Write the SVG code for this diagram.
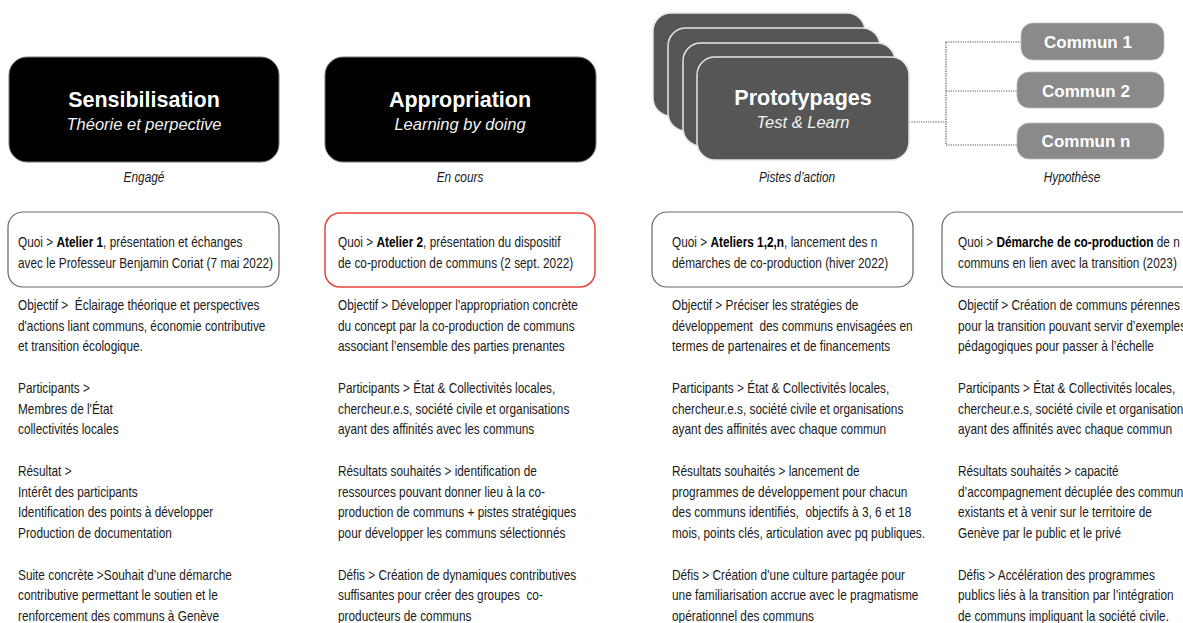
<svg xmlns="http://www.w3.org/2000/svg" width="1183" height="623" viewBox="0 0 1183 623">
<style>
.hdr{fill:#000;stroke:#777;stroke-width:1}
.proto{fill:#565656;stroke:#e6e6e6;stroke-width:1.5}
.commun{fill:#8a8a8a;stroke:#bbb;stroke-width:0.8}
.title{font-family:"Liberation Sans",Arial,sans-serif;font-weight:bold;font-size:21.5px;fill:#fff;text-anchor:middle}
.sub{font-family:"Liberation Sans",Arial,sans-serif;font-style:italic;font-size:16.5px;fill:#f2f2f2;text-anchor:middle}
.ctext{font-family:"Liberation Sans",Arial,sans-serif;font-weight:bold;font-size:17px;fill:#fff;text-anchor:middle}
.lbl{font-family:"Liberation Sans",Arial,sans-serif;font-style:italic;font-size:14px;fill:#1a1a1a;text-anchor:middle}
.body{font-family:"Liberation Sans",Arial,sans-serif;font-size:14px;fill:#1a1a1a;white-space:pre}
.b{font-weight:bold;fill:#000}
.qbox{fill:none;stroke:#666;stroke-width:1.2}
.qred{fill:none;stroke:#e8463a;stroke-width:1.5}
.dot{fill:none;stroke:#555;stroke-width:1.2;stroke-dasharray:1.2 1.2}
</style>

<g id="connectors">
<path class="dot" d="M909 122 H946 M946 42 V145 M946 42 H1022 M946 91 H1017 M946 145 H1017"/>
</g>

<g id="sensibilisation">
<rect class="hdr" x="9" y="57" width="270" height="105" rx="18"/>
<text class="title" x="144" y="107">Sensibilisation</text>
<text class="sub" x="144" y="130">Théorie et perpective</text>
<g transform="translate(144 0) scale(0.845 1)"><text class="lbl" x="0" y="182">Engagé</text></g>
</g>

<g id="appropriation">
<rect class="hdr" x="325" y="57" width="271" height="105" rx="18"/>
<text class="title" x="460" y="107">Appropriation</text>
<text class="sub" x="460" y="130">Learning by doing</text>
<g transform="translate(460 0) scale(0.845 1)"><text class="lbl" x="0" y="182">En cours</text></g>
</g>

<g id="prototypages">
<rect class="proto" x="653" y="13" width="212" height="103" rx="18"/>
<rect class="proto" x="668" y="28" width="212" height="103" rx="18"/>
<rect class="proto" x="683" y="43" width="212" height="103" rx="18"/>
<rect class="proto" x="697" y="57" width="212" height="103" rx="18"/>
<text class="title" x="803" y="105">Prototypages</text>
<text class="sub" x="803" y="128">Test &amp; Learn</text>
<g transform="translate(797 0) scale(0.845 1)"><text class="lbl" x="0" y="182">Pistes d’action</text></g>
</g>

<g id="commun1">
<rect class="commun" x="1021" y="23" width="143" height="37" rx="12"/>
<text class="ctext" x="1088" y="48">Commun 1</text>
</g>
<g id="commun2">
<rect class="commun" x="1017" y="72" width="147" height="36" rx="12"/>
<text class="ctext" x="1086" y="97">Commun 2</text>
</g>
<g id="communn">
<rect class="commun" x="1017" y="123" width="147" height="36" rx="12"/>
<text class="ctext" x="1086" y="147">Commun n</text>
</g>
<g id="hypothese">
<g transform="translate(1072 0) scale(0.845 1)"><text class="lbl" x="0" y="182">Hypothèse</text></g>
</g>

<g id="col1">
<rect class="qbox" x="8" y="212" width="271" height="75" rx="15"/>
<g transform="translate(18 0) scale(0.845 1)">
<text class="body" x="0" y="247">Quoi &gt; <tspan class="b">Atelier 1</tspan>, présentation et échanges</text>
<text class="body" x="0" y="268">avec le Professeur Benjamin Coriat (7 mai 2022)</text>
<text class="body" x="0" y="310">Objectif &gt;  Éclairage théorique et perspectives</text>
<text class="body" x="0" y="331">d'actions liant communs, économie contributive</text>
<text class="body" x="0" y="351">et transition écologique.</text>
<text class="body" x="0" y="393">Participants &gt;</text>
<text class="body" x="0" y="414">Membres de l'État</text>
<text class="body" x="0" y="434">collectivités locales</text>
<text class="body" x="0" y="476">Résultat &gt;</text>
<text class="body" x="0" y="497">Intérêt des participants</text>
<text class="body" x="0" y="517">Identification des points à développer</text>
<text class="body" x="0" y="538">Production de documentation</text>
<text class="body" x="0" y="580">Suite concrète &gt;Souhait d’une démarche</text>
<text class="body" x="0" y="600">contributive permettant le soutien et le</text>
<text class="body" x="0" y="621">renforcement des communs à Genève</text>
</g>
</g>

<g id="col2">
<rect class="qred" x="325" y="213" width="270" height="74" rx="15"/>
<g transform="translate(338 0) scale(0.845 1)">
<text class="body" x="0" y="247">Quoi &gt; <tspan class="b">Atelier 2</tspan>, présentation du dispositif</text>
<text class="body" x="0" y="268">de co-production de communs (2 sept. 2022)</text>
<text class="body" x="0" y="310">Objectif &gt; Développer l'appropriation concrète</text>
<text class="body" x="0" y="331">du concept par la co-production de communs</text>
<text class="body" x="0" y="351">associant l’ensemble des parties prenantes</text>
<text class="body" x="0" y="393">Participants &gt; État &amp; Collectivités locales,</text>
<text class="body" x="0" y="414">chercheur.e.s, société civile et organisations</text>
<text class="body" x="0" y="434">ayant des affinités avec les communs</text>
<text class="body" x="0" y="476">Résultats souhaités &gt; identification de</text>
<text class="body" x="0" y="497">ressources pouvant donner lieu à la co-</text>
<text class="body" x="0" y="517">production de communs + pistes stratégiques</text>
<text class="body" x="0" y="538">pour développer les communs sélectionnés</text>
<text class="body" x="0" y="580">Défis &gt; Création de dynamiques contributives</text>
<text class="body" x="0" y="600">suffisantes pour créer des groupes  co-</text>
<text class="body" x="0" y="621">producteurs de communs</text>
</g>
</g>

<g id="col3">
<rect class="qbox" x="652" y="212" width="261" height="75" rx="15"/>
<g transform="translate(672 0) scale(0.845 1)">
<text class="body" x="0" y="247">Quoi &gt; <tspan class="b">Ateliers 1,2,n</tspan>, lancement des n</text>
<text class="body" x="0" y="268">démarches de co-production (hiver 2022)</text>
<text class="body" x="0" y="310">Objectif &gt; Préciser les stratégies de</text>
<text class="body" x="0" y="331">développement  des communs envisagées en</text>
<text class="body" x="0" y="351">termes de partenaires et de financements</text>
<text class="body" x="0" y="393">Participants &gt; État &amp; Collectivités locales,</text>
<text class="body" x="0" y="414">chercheur.e.s, société civile et organisations</text>
<text class="body" x="0" y="434">ayant des affinités avec chaque commun</text>
<text class="body" x="0" y="476">Résultats souhaités &gt; lancement de</text>
<text class="body" x="0" y="497">programmes de développement pour chacun</text>
<text class="body" x="0" y="517">des communs identifiés,  objectifs à 3, 6 et 18</text>
<text class="body" x="0" y="538">mois, points clés, articulation avec pq publiques.</text>
<text class="body" x="0" y="580">Défis &gt; Création d’une culture partagée pour</text>
<text class="body" x="0" y="600">une familiarisation accrue avec le pragmatisme</text>
<text class="body" x="0" y="621">opérationnel des communs</text>
</g>
</g>

<g id="col4">
<rect class="qbox" x="942" y="212" width="260" height="75" rx="15"/>
<g transform="translate(958 0) scale(0.845 1)">
<text class="body" x="0" y="247">Quoi &gt; <tspan class="b">Démarche de co-production</tspan> de n</text>
<text class="body" x="0" y="268">communs en lien avec la transition (2023)</text>
<text class="body" x="0" y="310">Objectif &gt; Création de communs pérennes</text>
<text class="body" x="0" y="331">pour la transition pouvant servir d’exemples</text>
<text class="body" x="0" y="351">pédagogiques pour passer à l’échelle</text>
<text class="body" x="0" y="393">Participants &gt; État &amp; Collectivités locales,</text>
<text class="body" x="0" y="414">chercheur.e.s, société civile et organisations</text>
<text class="body" x="0" y="434">ayant des affinités avec chaque commun</text>
<text class="body" x="0" y="476">Résultats souhaités &gt; capacité</text>
<text class="body" x="0" y="497">d’accompagnement décuplée des communs</text>
<text class="body" x="0" y="517">existants et à venir sur le territoire de</text>
<text class="body" x="0" y="538">Genève par le public et le privé</text>
<text class="body" x="0" y="580">Défis &gt; Accélération des programmes</text>
<text class="body" x="0" y="600">publics liés à la transition par l’intégration</text>
<text class="body" x="0" y="621">de communs impliquant la société civile.</text>
</g>
</g>
</svg>
